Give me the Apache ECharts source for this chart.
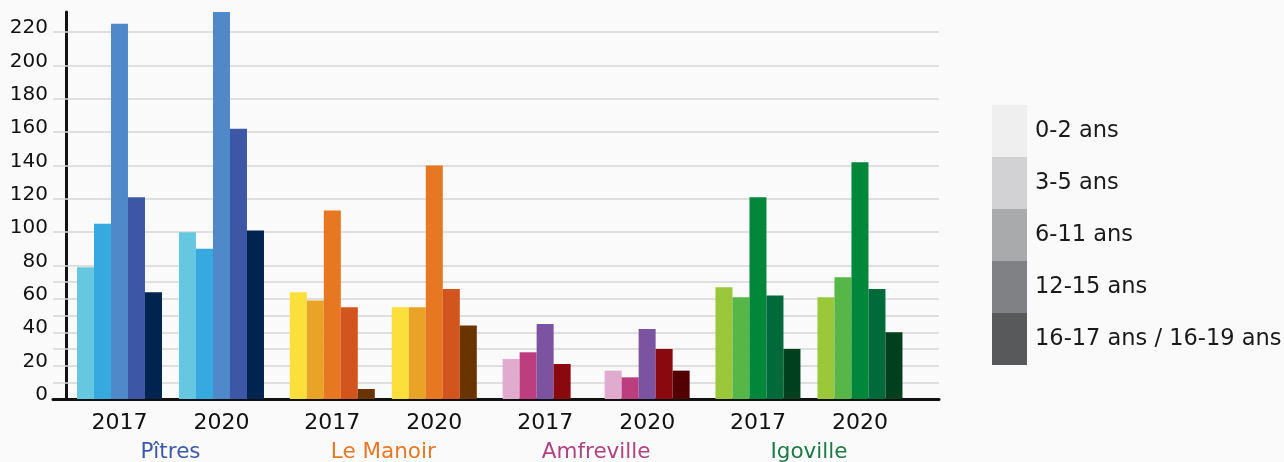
<!DOCTYPE html>
<html>
<head>
<meta charset="utf-8">
<script src="https://cdn.jsdelivr.net/npm/echarts@6/dist/echarts.min.js"></script>
<style>
html,body{margin:0;padding:0;background:#fafafa;}
#chart{width:1284px;height:462px;}
</style>
</head>
<body>
<div id="chart"></div>
<script>
// ---- data ----
const towns = ['Pîtres', 'Le Manoir', 'Amfreville', 'Igoville'];
const years = ['2017', '2020'];
const ageGroups = ['0-2 ans', '3-5 ans', '6-11 ans', '12-15 ans', '16-17 ans / 16-19 ans'];
// order: Pîtres 2017, Pîtres 2020, Le Manoir 2017, Le Manoir 2020, Amfreville 2017, Amfreville 2020, Igoville 2017, Igoville 2020
const age0_2   = [79, 100, 64, 55, 24, 17, 67, 61];
const age3_5   = [105, 90, 59, 55, 28, 13, 61, 73];
const age6_11  = [225, 232, 113, 140, 45, 42, 121, 142];
const age12_15 = [121, 162, 55, 66, 21, 30, 62, 66];
const age16_19 = [64, 101, 6, 44, null, 17, 30, 40];
const gridValues = [10, 20, 30, 40, 50, 60, 70, 80, 100, 120, 140, 160, 180, 200, 220];

// ---- styles ----
const FONT = 'DejaVu Sans';
const townPalettes = [
  ['#66c8e0', '#36a9e1', '#4f89c9', '#3d57a6', '#01234f'],
  ['#fddf3c', '#e9a427', '#e87722', '#d3551e', '#693400'],
  ['#e0abcf', '#bd3e7e', '#7b53a1', '#8a090e', '#520003'],
  ['#9bc83b', '#56b748', '#00873a', '#006a3b', '#00401f']
];
const legendGreys = ['#efefef', '#d2d2d4', '#a9aaac', '#808184', '#58595b'];
const townLabelColors = ['#3e59a8', '#e97824', '#b04481', '#1e7a45'];
const ageArrays = [age0_2, age3_5, age6_11, age12_15, age16_19];

const series = [];
function yearSeries(yi) {
  ageArrays.forEach((arr, ai) => {
    const s = {
      name: ageGroups[ai],
      type: 'bar',
      barWidth: 17,
      barGap: '0%',
      itemStyle: { color: legendGreys[ai] },
      data: towns.map((t, ti) => ({
        value: [ti, arr[ti * 2 + yi]],
        itemStyle: { color: townPalettes[ti][ai] }
      }))
    };
    if (ai === 2) {
      s.label = {
        show: true, position: 'bottom', distance: 13,
        formatter: years[yi], color: '#111', fontSize: 22, fontFamily: FONT
      };
    }
    series.push(s);
  });
}
yearSeries(0);
series.push({
  name: 'spacer',
  type: 'bar',
  barWidth: 17,
  barGap: '0%',
  itemStyle: { color: 'rgba(0,0,0,0)' },
  data: towns.map((t, ti) => ({
    value: [ti, 0],
    label: { color: townLabelColors[ti] }
  })),
  label: {
    show: true, position: 'bottom', distance: 42,
    formatter: p => towns[p.dataIndex], fontSize: 21.5, fontFamily: FONT
  },
  markLine: {
    silent: true, symbol: 'none', z: 1,
    label: { show: false },
    lineStyle: { color: '#d6d6d6', width: 1.5, type: 'solid' },
    data: gridValues.map(v => ({ yAxis: v }))
  }
});
yearSeries(1);

const chart = echarts.init(document.getElementById('chart'), null, { renderer: 'canvas' });
chart.setOption({
  animation: false,
  backgroundColor: '#fafafa',
  grid: { left: 53, right: 345, top: 12, bottom: 63, containLabel: false },
  legend: {
    data: ageGroups,
    orient: 'vertical',
    left: 987, top: 100,
    itemWidth: 35, itemHeight: 52, itemGap: 0,
    icon: 'rect',
    selectedMode: false,
    textStyle: { fontSize: 22.5, fontFamily: FONT, color: '#1a1a1a', padding: [0, 0, 0, 3] }
  },
  xAxis: {
    type: 'value', min: -0.552, max: 3.611,
    axisLine: { show: true, onZero: true, lineStyle: { color: '#111', width: 3 } },
    axisTick: { show: false }, axisLabel: { show: false }, splitLine: { show: false }
  },
  yAxis: {
    type: 'value', min: 0, max: 232, interval: 20,
    offset: -13,
    axisLine: { show: true, onZero: false, lineStyle: { color: '#111', width: 3 } },
    axisTick: { show: false },
    splitLine: { show: false },
    axisLabel: { fontSize: 20, fontFamily: FONT, color: '#111', margin: 18, showMaxLabel: false,
                 verticalAlign: 'bottom', lineHeight: 8 }
  },
  series: series
});
</script>
</body>
</html>
